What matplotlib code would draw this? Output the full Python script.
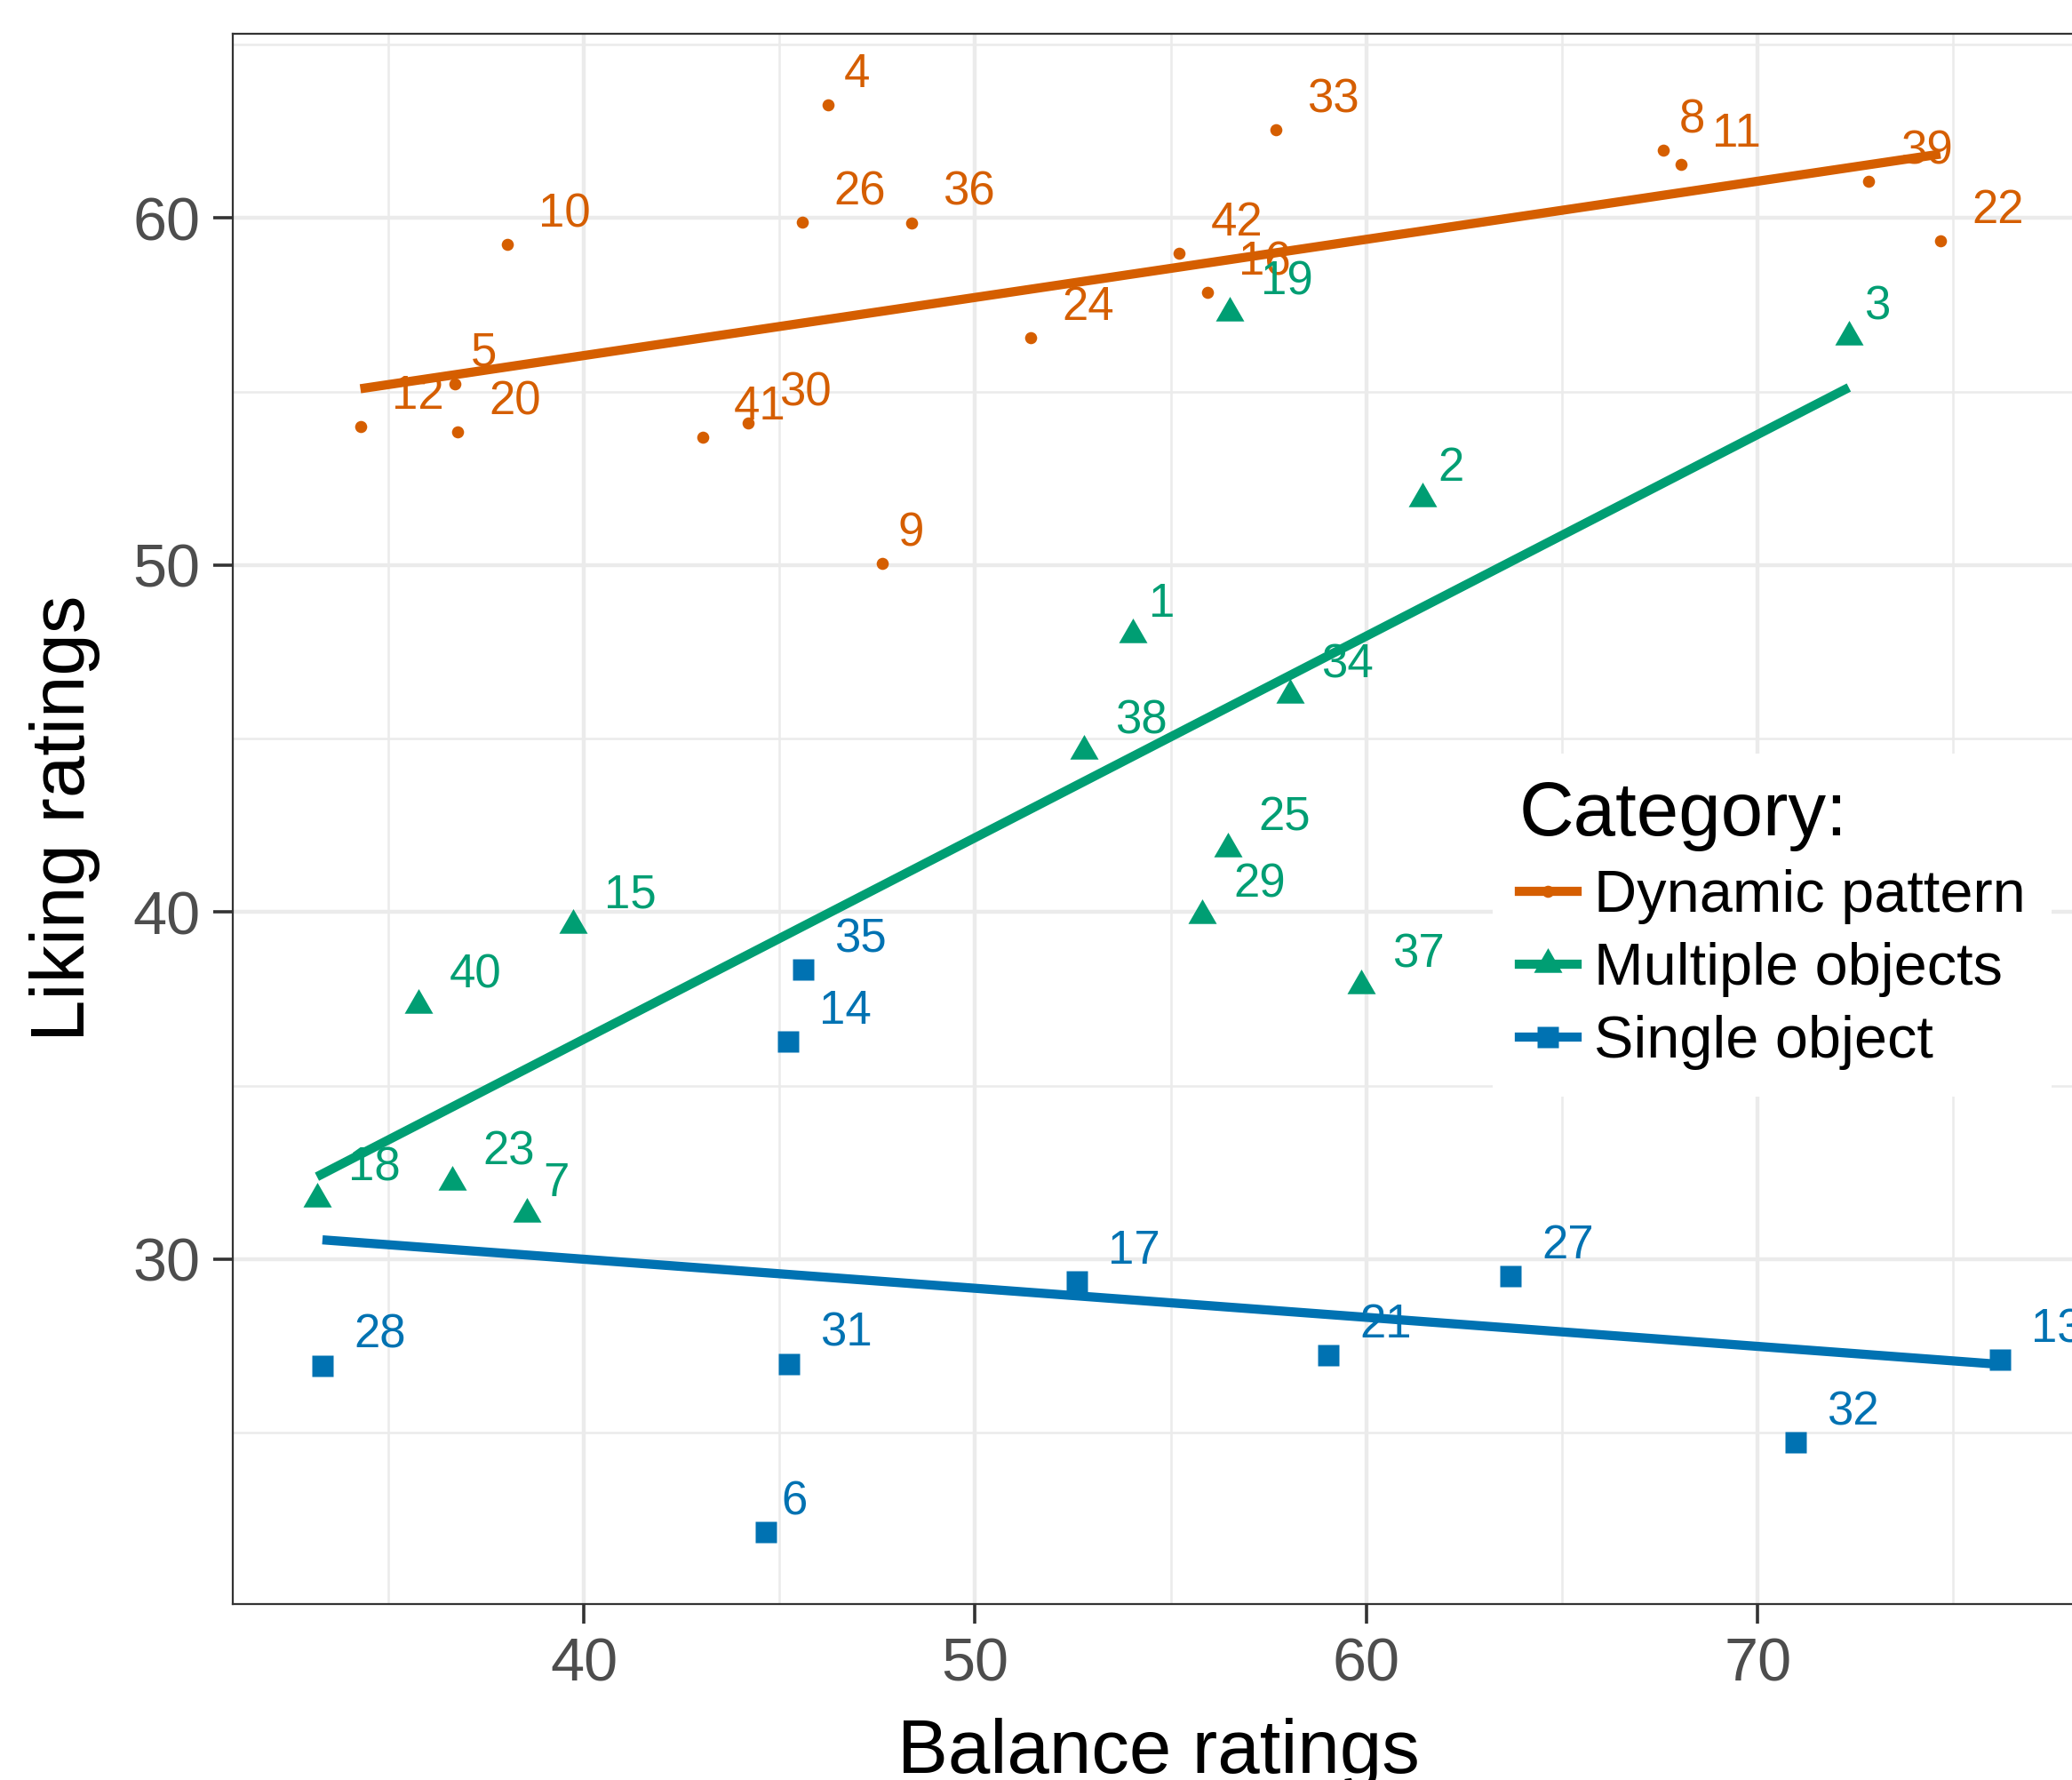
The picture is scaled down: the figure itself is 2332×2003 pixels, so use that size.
import numpy as np
import matplotlib.pyplot as plt
from matplotlib.lines import Line2D

plt.rcParams["font.family"] = ["Liberation Sans", "DejaVu Sans"]

# ============================
# 1. Data
# ============================
dyn_ids = [4, 33, 8, 11, 39, 22, 10, 26, 36, 42, 16, 24, 5, 12, 20, 41, 30, 9]
dyn_x = [46.25, 57.69, 67.59, 68.04, 72.84, 74.67, 38.04, 45.58, 48.38,
         55.22, 55.93, 51.43, 36.71, 34.29, 36.78, 43.03, 44.20, 47.62]
dyn_y = [63.26, 62.54, 61.95, 61.54, 61.06, 59.35, 59.24, 59.88, 59.86,
         58.98, 57.86, 56.55, 55.23, 54.00, 53.83, 53.68, 54.09, 50.04]

mult_ids = [1, 2, 3, 7, 15, 18, 19, 23, 25, 29, 34, 37, 38, 40]
mult_x = [54.04, 61.44, 72.33, 38.55, 39.72, 33.18, 56.50, 36.63, 56.45,
          55.81, 58.04, 59.86, 52.78, 35.77]
mult_y = [47.99, 51.91, 56.58, 31.30, 39.62, 31.75, 57.28, 32.22, 41.84,
          39.92, 46.25, 37.89, 44.64, 37.32]

single_ids = [6, 13, 14, 17, 21, 27, 28, 31, 32, 35]
single_x = [44.65, 76.20, 45.21, 52.60, 59.02, 63.69, 33.32, 45.24, 70.97, 45.60]
single_y = [22.13, 27.10, 36.26, 29.35, 27.24, 29.50, 26.93, 26.98, 24.72, 38.34]

categories = ["Dynamic pattern", "Multiple objects", "Single object"]
colors = ["#D55E00", "#009E73", "#0072B2"]

# triangle centred on its centroid (like R's pch 17)
tri = [(0, 1), (-0.866, -0.5), (0.866, -0.5), (0, 1)]
markers = ["o", tri, "s"]
msizes = [4.9, 13.3, 8.6]

groups = [
    (dyn_x, dyn_y, dyn_ids),
    (mult_x, mult_y, mult_ids),
    (single_x, single_y, single_ids),
]

# ============================
# 2. Figure / axes
# ============================
W, H, DPI = 2332, 2003, 200
fig = plt.figure(figsize=(W / DPI, H / DPI), dpi=DPI)
ax = fig.add_axes([262 / W, 1 - 1804.5 / H, (2346 - 262) / W, (1804.5 - 37.9) / H])

all_x = np.concatenate([dyn_x, mult_x, single_x])
all_y = np.concatenate([dyn_y, mult_y, single_y])
ex = 0.05 * (all_x.max() - all_x.min())
ey = 0.05 * (all_y.max() - all_y.min())
ax.set_xlim(all_x.min() - ex, all_x.max() + ex)
ax.set_ylim(all_y.min() - ey, all_y.max() + ey)

# ============================
# 3. Fits, points, labels
# ============================
LW = 3.7
digit_w = 0.556 * 19
for (xs, ys, ids), c, m, s in zip(groups, colors, markers, msizes):
    xs = np.array(xs)
    ys = np.array(ys)
    k, b = np.polyfit(xs, ys, 1)
    xx = np.array([xs.min(), xs.max()])
    ax.plot(xx, k * xx + b, color=c, lw=LW, solid_capstyle="butt", zorder=3)
    ax.plot(xs, ys, linestyle="none", marker=m, ms=s, color=c, mec="none", zorder=4)
    for x, y, i in zip(xs, ys, ids):
        lab = str(i)
        ax.annotate(lab, (x, y), xytext=(0.6 * len(lab) * digit_w, 7.2),
                    textcoords="offset points", ha="left", va="baseline",
                    color=c, fontsize=19, zorder=5, annotation_clip=False)

# ============================
# 4. Axes styling (ggplot theme_bw look)
# ============================
ax.set_xticks([40, 50, 60, 70])
ax.set_xticks([35, 45, 55, 65, 75], minor=True)
ax.set_yticks([30, 40, 50, 60])
ax.set_yticks([25, 35, 45, 55, 65], minor=True)
ax.grid(which="major", color="#EBEBEB", lw=1.6)
ax.grid(which="minor", color="#EBEBEB", lw=0.9)
ax.set_axisbelow(True)
ax.tick_params(which="major", length=7.8, width=1.3, color="#333333",
               labelsize=24.6, labelcolor="#4D4D4D", pad=5.5)
ax.tick_params(which="minor", length=0)
for sp in ax.spines.values():
    sp.set_color("#333333")
    sp.set_linewidth(0.8)

ax.set_xlabel("Balance ratings", fontsize=30.7, labelpad=10)
ax.set_ylabel("Liking ratings", fontsize=30.7, labelpad=13)

# ============================
# 5. Legend
# ============================
handles = [Line2D([], [], color=c, lw=LW, marker=m, ms=s, mec="none")
           for c, m, s in zip(colors, markers, msizes)]
ax.legend(handles, categories, title="Category:", loc="upper left",
          bbox_to_anchor=(0.6804, 0.5414), bbox_transform=ax.transAxes,
          borderaxespad=0, borderpad=0.45, frameon=True, fancybox=False,
          facecolor="white", edgecolor="none", framealpha=1,
          fontsize=24, title_fontsize=30.7, alignment="left",
          handlelength=0.975, handletextpad=0.28, labelspacing=0.3)

fig.savefig("out.png", dpi=DPI)
